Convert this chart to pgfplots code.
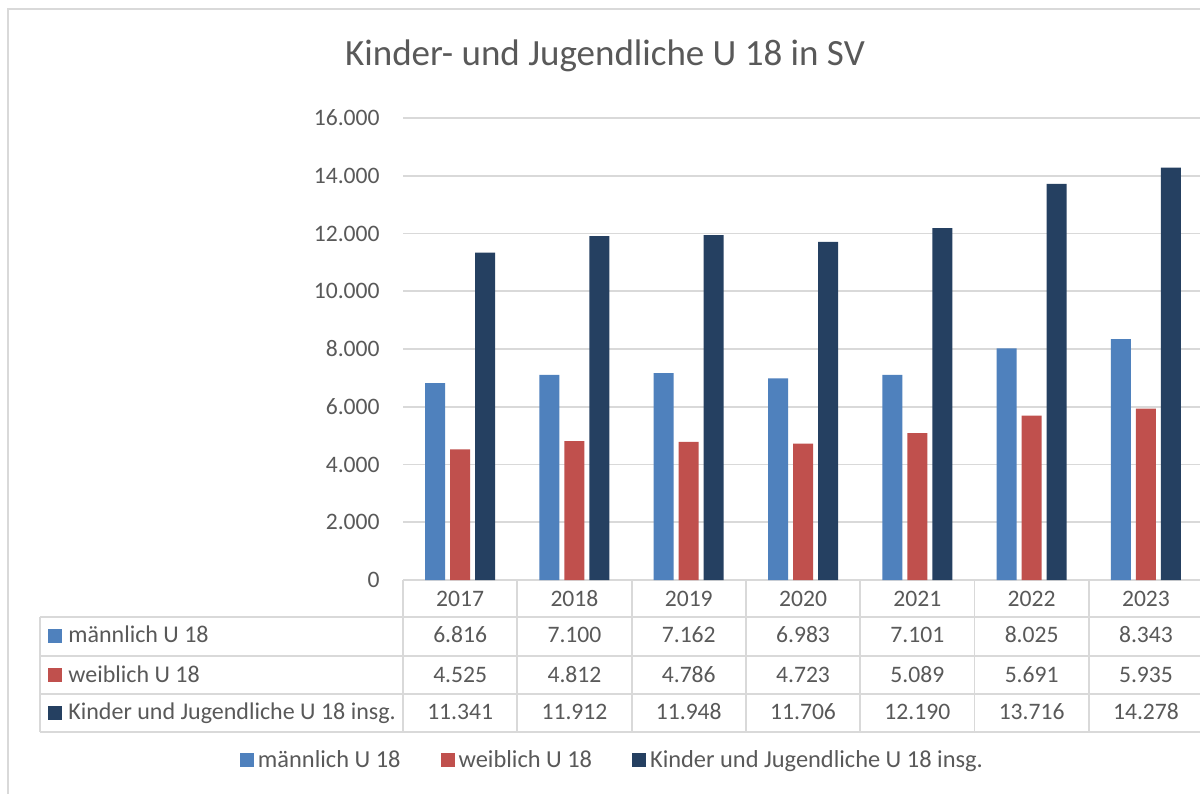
\documentclass[border=0pt]{standalone}
\usepackage{pgfplots}
\pgfplotsset{compat=1.18}
\usepackage{pgfplotstable}
\usepackage{fontspec}
\setmainfont{Carlito}
\definecolor{colM}{HTML}{4F81BD}
\definecolor{colW}{HTML}{C0504D}
\definecolor{colT}{HTML}{254061}
\definecolor{txtc}{HTML}{595959}
\definecolor{gridc}{HTML}{D9D9D9}

\pgfplotstableread{
x year m w t
0 2017 6816 4525 11341
1 2018 7100 4812 11912
2 2019 7162 4786 11948
3 2020 6983 4723 11706
4 2021 7101 5089 12190
5 2022 8025 5691 13716
6 2023 8343 5935 14278
}\data

\begin{document}
\begin{tikzpicture}[x=0.5pt,y=0.5pt]
% coordinates: (x_px, 793 - y_px)
\useasboundingbox (0,0) rectangle (1200,793);
\fill[white] (0,0) rectangle (1200,793);
\draw[gridc, line width=0.9pt] (8,-10) -- (8,784) -- (1210,784);
\node[text=txtc, font=\fontsize{18.5}{22}\selectfont, anchor=base] at (605,727) {Kinder- und Jugendliche U 18 in SV};

\begin{axis}[at={(201.5pt,106.5pt)}, anchor=south west, scale only axis,
  width=400pt, height=231pt,
  ybar=2.5pt, bar width=10pt,
  xmin=-0.5, xmax=6.5, ymin=0, ymax=16000,
  ytick={0,2000,...,16000}, xtick=\empty,
  scaled y ticks=false,
  axis line style={draw=none}, major tick length=0pt,
  ymajorgrids, grid style={gridc, line width=0.9pt},
  yticklabel style={font=\fontsize{11.8}{14}\selectfont, text=txtc, inner sep=0pt, xshift=-11.5pt},
  /pgf/number format/.cd, 1000 sep={.}, assume math mode=true, /pgfplots/.cd,
  legend image code/.code={\fill[#1] (0pt,-3.5pt) rectangle (7pt,3.5pt);},
  legend style={at={(0.263,-0.39)}, anchor=center, draw=none, fill=none,
    legend columns=-1, font=\fontsize{12.2}{14}\selectfont, text=txtc,
    /tikz/every even column/.append style={column sep=18pt},
    /tikz/every odd column/.append style={column sep=0pt},
    inner sep=0pt},
  clip=false,
]
\addplot[fill=colM, draw=none] table[x=x, y=m] {\data};
\addplot[fill=colW, draw=none] table[x=x, y=w] {\data};
\addplot[fill=colT, draw=none] table[x=x, y=t] {\data};
\legend{männlich U 18, weiblich U 18, Kinder und Jugendliche U 18 insg.}
\end{axis}

% data table
\foreach \yy in {617,656,694,732} {\draw[gridc, line width=0.9pt] (40,793-\yy) -- (1210,793-\yy);}
\draw[gridc, line width=0.9pt] (40,793-617) -- (40,793-732);
\foreach \k in {0,...,7} {\draw[gridc, line width=0.9pt] ({403+114.3*\k},213) -- ({403+114.3*\k},61);}

\begin{scope}[every node/.style={text=txtc, font=\fontsize{11.8}{14}\selectfont, anchor=base, inner sep=0pt}]
\foreach \i in {0,...,6} {
  \pgfmathsetmacro{\cx}{403+114.3*(\i+0.5)}
  \pgfplotstablegetelem{\i}{year}\of\data
  \node at (\cx,793-607) {\pgfplotsretval};
  \pgfplotstablegetelem{\i}{m}\of\data
  \node at (\cx,793-643) {\pgfmathprintnumber[1000 sep={.}, assume math mode=true]{\pgfplotsretval}};
  \pgfplotstablegetelem{\i}{w}\of\data
  \node at (\cx,793-682) {\pgfmathprintnumber[1000 sep={.}, assume math mode=true]{\pgfplotsretval}};
  \pgfplotstablegetelem{\i}{t}\of\data
  \node at (\cx,793-720) {\pgfmathprintnumber[1000 sep={.}, assume math mode=true]{\pgfplotsretval}};
}
\begin{scope}[every node/.append style={font=\fontsize{12}{14}\selectfont}]
\node[anchor=base west] at (68,793-643) {männlich U 18};
\node[anchor=base west] at (68,793-682) {weiblich U 18};
\node[anchor=base west] at (68,793-720) {Kinder und Jugendliche U 18 insg.};
\end{scope}
\end{scope}
\fill[colM] (48,793-629) rectangle (62,793-643);
\fill[colW] (48,793-668) rectangle (62,793-682);
\fill[colT] (48,793-706) rectangle (62,793-720);
\end{tikzpicture}
\end{document}
